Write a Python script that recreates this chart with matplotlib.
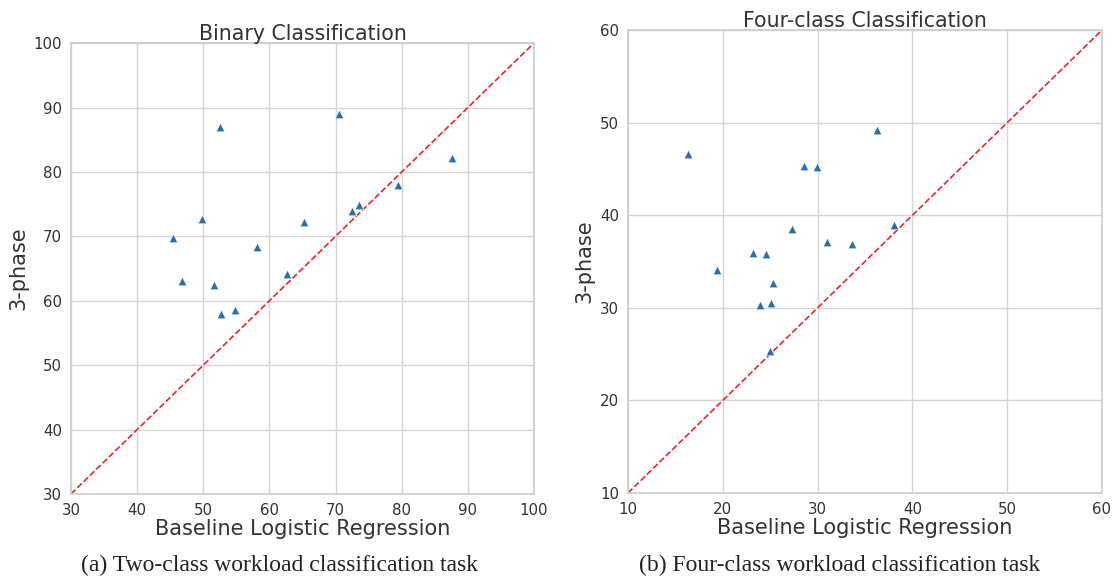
import matplotlib
matplotlib.use("Agg")
import matplotlib.pyplot as plt
import seaborn as sns

# Binary classification results (baseline LR vs 3-phase)
bin_baseline = [52.5, 70.5, 87.6, 79.5, 73.5, 72.5, 65.2, 49.8, 45.4, 58.2, 62.6, 46.8, 51.7, 52.7, 54.8]
bin_3phase = [87.0, 89.0, 82.2, 78.0, 74.8, 74.0, 72.3, 72.7, 69.8, 68.3, 64.2, 63.0, 62.5, 58.0, 58.5]

# Four-class classification results
four_baseline = [16.3, 36.3, 28.6, 29.9, 38.1, 27.3, 31.0, 33.6, 23.2, 24.6, 19.4, 25.3, 23.9, 25.1, 25.0]
four_3phase = [46.6, 49.2, 45.3, 45.2, 38.9, 38.5, 37.1, 36.9, 35.9, 35.8, 34.1, 32.7, 30.3, 30.5, 25.3]

bin_lim = (30, 100)
four_lim = (10, 60)

sns.set_style("whitegrid")
plt.rcParams['font.family'] = ['DejaVu Sans']

fig = plt.figure(figsize=(11.14, 5.78), dpi=100)
ax1 = fig.add_axes([0.0637, 0.1453, 0.4156, 0.780])
ax2 = fig.add_axes([0.5637, 0.147, 0.4255, 0.801])

point_color = '#2a6fa8'
line_color = '#e8262a'
text_color = '#333333'


def draw(ax, xs, ys, lim, title):
    ax.plot(lim, lim, linestyle='--', color=line_color, linewidth=1.2, zorder=2)
    ax.scatter(xs, ys, marker='^', s=38, color=point_color,
               edgecolors='white', linewidths=0.4, zorder=3)
    ax.set_xlim(lim)
    ax.set_ylim(lim)
    ax.set_title(title, fontsize=14.8, color=text_color, pad=2)
    ax.set_xlabel("Baseline Logistic Regression", fontsize=15, color=text_color, labelpad=1)
    ax.set_ylabel("3-phase", fontsize=15, color=text_color, labelpad=4)
    ax.tick_params(labelsize=10.8, colors=text_color, length=0, pad=6.5)
    for s in ax.spines.values():
        s.set_color('#cccccc')
        s.set_linewidth(1.2)
    ax.grid(color='#d5d5d5', linewidth=1.0)


draw(ax1, bin_baseline, bin_3phase, bin_lim, "Binary Classification")
draw(ax2, four_baseline, four_3phase, four_lim, "Four-class Classification")

fig.text(0.2513, 0.012, "(a) Two-class workload classification task",
         ha='center', fontsize=17, family='Liberation Serif', color='#222222')
fig.text(0.7536, 0.012, "(b) Four-class workload classification task",
         ha='center', fontsize=17, family='Liberation Serif', color='#222222')

fig.savefig("out.png", dpi=100)
